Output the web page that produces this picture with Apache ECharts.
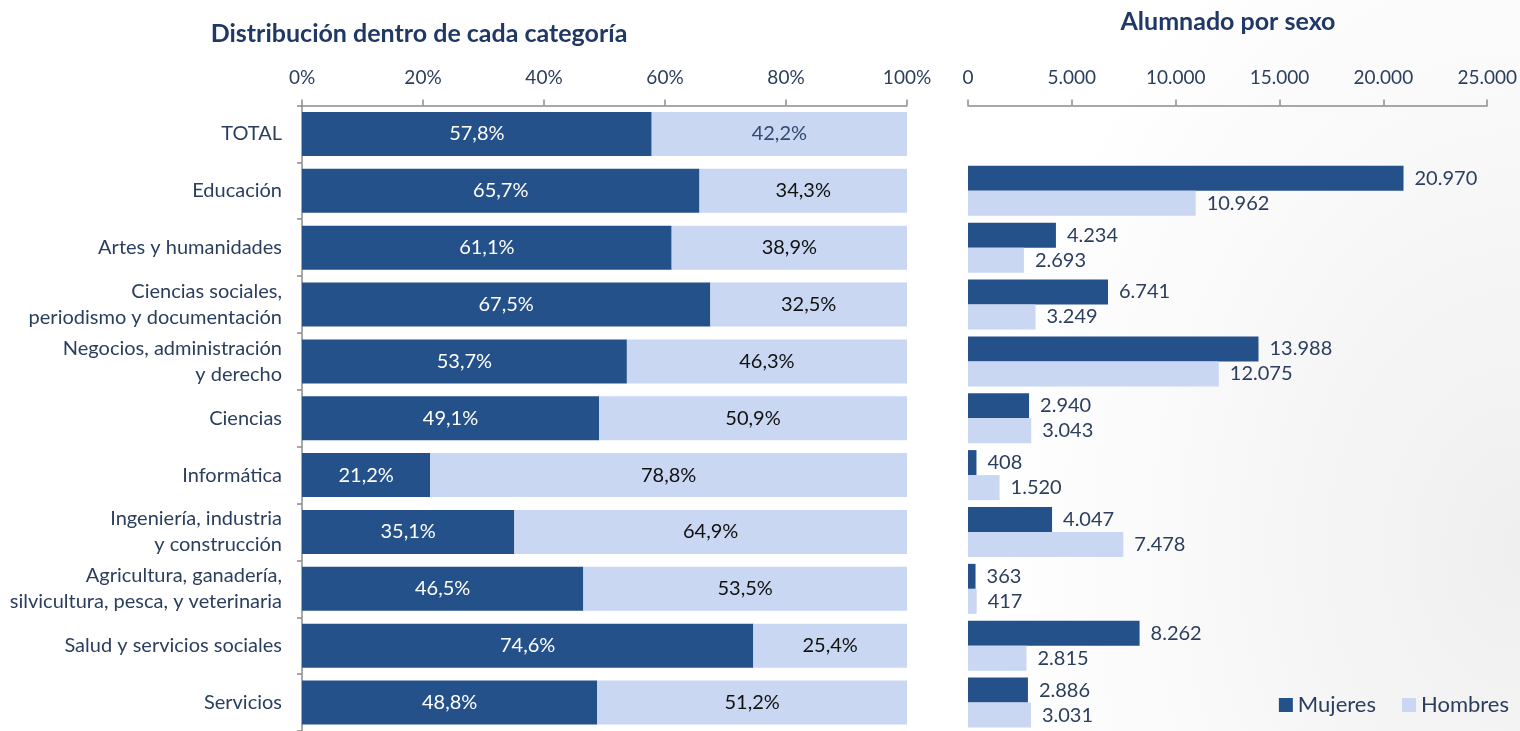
<!DOCTYPE html>
<html><head><meta charset="utf-8">
<script src="https://cdn.jsdelivr.net/npm/echarts@6/dist/echarts.min.js"></script>
<style>
html,body{margin:0;padding:0;width:1520px;height:731px;overflow:hidden;
background:radial-gradient(ellipse 50% 140% at 100% 75%, #efefef 0%, #ffffff 70%);}
#c{width:1520px;height:731px;}
</style></head><body><div id="c"></div>
<script>
const categories = ["TOTAL","Educación","Artes y humanidades","Ciencias sociales,\nperiodismo y documentación","Negocios, administración\ny derecho","Ciencias","Informática","Ingeniería, industria\ny construcción","Agricultura, ganadería,\nsilvicultura, pesca, y veterinaria","Salud y servicios sociales","Servicios"];
const pctMujeres = [57.8,65.7,61.1,67.5,53.7,49.1,21.2,35.1,46.5,74.6,48.8];
const pctHombres = [42.2,34.3,38.9,32.5,46.3,50.9,78.8,64.9,53.5,25.4,51.2];
const numMujeres = [null,20970,4234,6741,13988,2940,408,4047,363,8262,2886];
const numHombres = [null,10962,2693,3249,12075,3043,1520,7478,417,2815,3031];
const pctTicks = [0,20,40,60,80,100];
const numTicks = [0,5000,10000,15000,20000,25000];

const FONT = 'Lato';
const NAVY = '#1F3864';
const TXT = '#2B3E5E';
const C_M = '#245189';
const C_H = '#C9D7F2';

function fmtThousands(v){ return String(v).replace(/\B(?=(\d{3})+(?!\d))/g,'.'); }
function fmtPct(v){ return v.toFixed(1).replace('.',',')+'%'; }

const chart = echarts.init(document.getElementById('c'));
chart.setOption({
  textStyle:{fontFamily:FONT},
  animation:false,
  title:[
    {text:'Distribución dentro de cada categoría',left:414,top:16,textAlign:'center',
     textStyle:{fontFamily:FONT,fontSize:25,fontWeight:'bold',color:NAVY}},
    {text:'Alumnado por sexo',left:1223,top:4,textAlign:'center',
     textStyle:{fontFamily:FONT,fontSize:25,fontWeight:'bold',color:NAVY}}
  ],
  legend:{
    data:['Mujeres','Hombres'],
    right:6, top:689, itemWidth:14, itemHeight:14, itemGap:26,
    icon:'rect',
    textStyle:{fontFamily:FONT,fontSize:22,color:TXT}
  },
  grid:[
    {left:302,width:605,top:105.5,height:628},
    {left:968,width:520,top:105.5,height:628}
  ],
  xAxis:[
    {gridIndex:0,type:'value',position:'top',min:0,max:100,interval:20,
     axisLine:{show:true,lineStyle:{color:'#8c8c8c',width:1.5}},
     axisTick:{show:true,length:6,lineStyle:{color:'#8c8c8c',width:1.5}},
     splitLine:{show:false},
     axisLabel:{margin:18,fontSize:19,color:TXT,fontFamily:FONT,formatter:v=>v+'%'}},
    {gridIndex:1,type:'value',position:'top',min:0,max:25000,interval:5000,
     axisLine:{show:true,lineStyle:{color:'#8c8c8c',width:1.5}},
     axisTick:{show:true,length:6,lineStyle:{color:'#8c8c8c',width:1.5}},
     splitLine:{show:false},
     axisLabel:{margin:18,fontSize:19,color:TXT,fontFamily:FONT,formatter:v=>fmtThousands(v)}}
  ],
  yAxis:[
    {gridIndex:0,type:'category',data:categories,inverse:true,
     axisLine:{show:true,lineStyle:{color:'#8c8c8c',width:1.5}},
     axisTick:{show:true,length:5,lineStyle:{color:'#8c8c8c',width:1.5}},
     axisLabel:{margin:20,fontSize:20,color:TXT,fontFamily:FONT,lineHeight:26,align:'right'}},
    {gridIndex:1,type:'category',data:categories,inverse:true,
     axisLine:{show:false},axisTick:{show:false},axisLabel:{show:false}}
  ],
  series:[
    {name:'Mujeres',type:'bar',stack:'pct',xAxisIndex:0,yAxisIndex:0,
     data:pctMujeres,barWidth:44,itemStyle:{color:C_M},
     label:{show:true,position:'inside',color:'#ffffff',fontSize:20,fontFamily:FONT,
       formatter:p=>fmtPct(p.value)}},
    {name:'Hombres',type:'bar',stack:'pct',xAxisIndex:0,yAxisIndex:0,
     data:pctHombres.map((v,i)=>i===0?{value:v,label:{color:'#2F4A75'}}:v),
     barWidth:44,itemStyle:{color:C_H},
     label:{show:true,position:'inside',color:'#111111',fontSize:20,fontFamily:FONT,
       formatter:p=>fmtPct(p.value)}},
    {name:'Mujeres',type:'bar',xAxisIndex:1,yAxisIndex:1,
     data:numMujeres,barWidth:25,barGap:'0%',itemStyle:{color:C_M},
     label:{show:true,position:'right',distance:11,color:TXT,fontSize:20,fontFamily:FONT,
       formatter:p=>p.value==null?'':fmtThousands(p.value)}},
    {name:'Hombres',type:'bar',xAxisIndex:1,yAxisIndex:1,
     data:numHombres,barWidth:25,barGap:'0%',itemStyle:{color:C_H},
     label:{show:true,position:'right',distance:11,color:TXT,fontSize:20,fontFamily:FONT,
       formatter:p=>p.value==null?'':fmtThousands(p.value)}}
  ]
});
</script></body></html>
